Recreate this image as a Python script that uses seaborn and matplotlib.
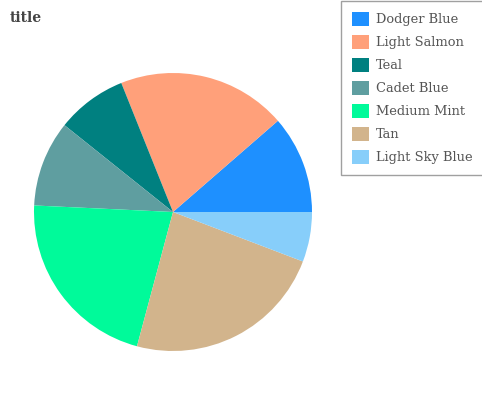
import matplotlib
matplotlib.use("Agg")
import matplotlib.pyplot as plt
import seaborn as sns

categories = ["Dodger Blue", "Light Salmon", "Teal", "Cadet Blue", "Medium Mint", "Tan", "Light Sky Blue"]
values = [11.4, 19.7, 8.2, 10.0, 21.6, 23.4, 5.8]
colors = ["#1e90ff", "#ffa07a", "#008080", "#5f9ea0", "#00fa9a", "#d2b48c", "#87cefa"]

sns.set_theme(style="white")
plt.rcParams['font.family'] = ['DejaVu Serif']

W, H = 482, 400
fig = plt.figure(figsize=(W/100, H/100), dpi=100)
ax = fig.add_axes([34/W, 49/H, 278/W, 278/H])
wedges, _ = ax.pie(values, colors=sns.color_palette(colors), startangle=0,
                   counterclock=True, wedgeprops=dict(linewidth=0))
ax.set_aspect('equal')
ax.set_xlim(-1, 1)
ax.set_ylim(-1, 1)

fig.text(10/W, 1 - 18/H, "title", fontsize=10, fontweight='bold',
         color='#444444', va='center', ha='left')

fs = 9.4
px_per_fs = fs * 100 / 72


def make_legend(ls, ax_, ay_):
    lg = fig.legend(wedges, categories, loc='lower left',
                    bbox_to_anchor=(ax_, ay_),
                    fontsize=fs, frameon=True, fancybox=False,
                    handlelength=1.3, handleheight=1.3, labelspacing=ls,
                    handletextpad=0.54, borderpad=0.85, borderaxespad=0)
    lg.get_frame().set_edgecolor('#888888')
    lg.get_frame().set_linewidth(1.0)
    for t in lg.get_texts():
        t.set_color('#555555')
    return lg


ls, anc_x, anc_y = 0.46, 341/W, (H - 177)/H
leg = make_legend(ls, anc_x, anc_y)
# fine-tune legend layout so rows sit 23 px apart, first swatch at x=352,
# last swatch centred at y=157 from the top
for _ in range(4):
    fig.canvas.draw()
    r = fig.canvas.get_renderer()
    exts = [h.get_window_extent(r) for h in leg.legend_handles]
    cy = [(e.y0 + e.y1) / 2 for e in exts]
    spacing = (cy[0] - cy[-1]) / (len(cy) - 1)
    ls += (23 - spacing) / px_per_fs
    anc_x += (352 - exts[0].x0) / W
    anc_y += ((H - 157) - cy[-1]) / H
    leg.remove()
    leg = make_legend(ls, anc_x, anc_y)

fig.savefig("out.png", dpi=100)
